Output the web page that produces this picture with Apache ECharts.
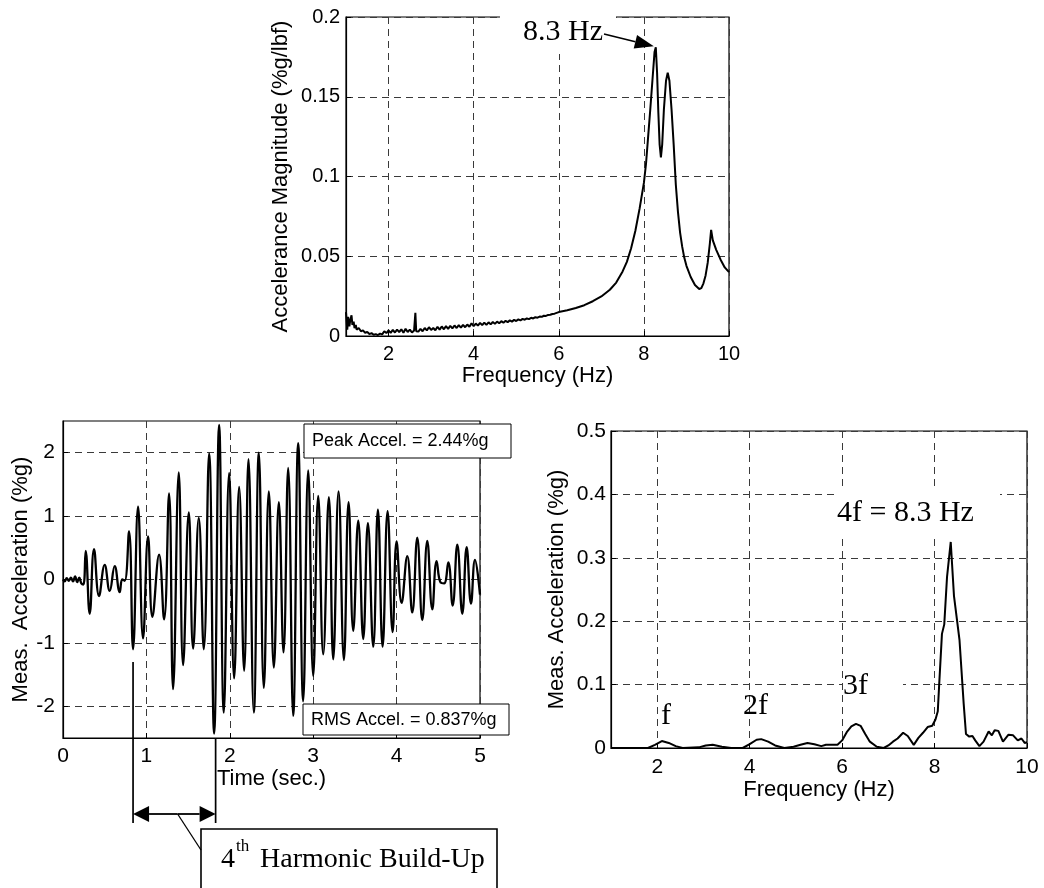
<!DOCTYPE html>
<html>
<head>
<meta charset="utf-8">
<script src="https://cdn.jsdelivr.net/npm/echarts@6/dist/echarts.min.js"></script>
<style>
  html, body { margin: 0; padding: 0; background: #fff; }
  #chart { width: 1044px; height: 888px; }
</style>
</head>
<body>
<div id="chart"></div>
<script>
// Accelerance frequency response (%g/lbf) vs frequency (Hz)
const frfFreq = [
  1.00, 1.03, 1.05, 1.08, 1.10, 1.13, 1.15, 1.18, 1.20, 1.23, 1.25, 1.30, 1.35, 1.40, 1.45,
  1.50, 1.55, 1.60, 1.65, 1.70, 1.75, 1.80, 1.85, 1.90, 1.95, 2.00, 2.05, 2.10, 2.15, 2.20,
  2.25, 2.30, 2.35, 2.40, 2.45, 2.50, 2.55, 2.60, 2.63, 2.65, 2.70, 2.75, 2.80, 2.85, 2.90,
  2.95, 3.00, 3.05, 3.10, 3.15, 3.20, 3.25, 3.30, 3.35, 3.40, 3.45, 3.50, 3.55, 3.60, 3.65,
  3.70, 3.75, 3.80, 3.85, 3.90, 3.95, 4.00, 4.05, 4.10, 4.15, 4.20, 4.25, 4.30, 4.35, 4.40,
  4.45, 4.50, 4.55, 4.60, 4.65, 4.70, 4.75, 4.80, 4.85, 4.90, 4.95, 5.00, 5.05, 5.10, 5.15,
  5.20, 5.25, 5.30, 5.35, 5.40, 5.45, 5.50, 5.55, 5.60, 5.65, 5.70, 5.75, 5.80, 5.85, 5.90,
  5.95, 6.00, 6.20, 6.40, 6.60, 6.80, 7.00, 7.20, 7.35, 7.50, 7.60, 7.70, 7.80, 7.90, 8.00,
  8.05, 8.10, 8.15, 8.20, 8.25, 8.28, 8.31, 8.34, 8.37, 8.40, 8.43, 8.47, 8.52, 8.56, 8.60,
  8.65, 8.70, 8.75, 8.80, 8.85, 8.90, 8.95, 9.00, 9.10, 9.20, 9.30, 9.35, 9.40, 9.45, 9.50,
  9.55, 9.58, 9.62, 9.70, 9.80, 9.90, 10.00
];
const frfMag = [
  0.0150, 0.0040, 0.0120, 0.0060, 0.0100, 0.0130, 0.0070, 0.0090, 0.0050, 0.0070, 0.0040, 0.0050, 0.0030, 0.0035, 0.0020,
  0.0025, 0.0012, 0.0018, 0.0008, 0.0012, 0.0006, 0.0015, 0.0010, 0.0030, 0.0018, 0.0035, 0.0020, 0.0038, 0.0022, 0.0040,
  0.0024, 0.0042, 0.0020, 0.0045, 0.0025, 0.0040, 0.0022, 0.0035, 0.0145, 0.0030, 0.0028, 0.0045, 0.0030, 0.0050, 0.0035,
  0.0055, 0.0038, 0.0050, 0.0036, 0.0058, 0.0040, 0.0060, 0.0042, 0.0062, 0.0045, 0.0063, 0.0048, 0.0066, 0.0050, 0.0068,
  0.0052, 0.0070, 0.0055, 0.0072, 0.0058, 0.0080, 0.0062, 0.0078, 0.0065, 0.0082, 0.0068, 0.0084, 0.0070, 0.0086, 0.0073,
  0.0088, 0.0076, 0.0090, 0.0080, 0.0093, 0.0083, 0.0095, 0.0087, 0.0098, 0.0090, 0.0101, 0.0094, 0.0104, 0.0098, 0.0107,
  0.0102, 0.0110, 0.0106, 0.0114, 0.0110, 0.0118, 0.0115, 0.0122, 0.0120, 0.0127, 0.0126, 0.0132, 0.0133, 0.0138, 0.0140,
  0.0145, 0.0150, 0.0162, 0.0176, 0.0193, 0.0218, 0.0248, 0.0290, 0.0335, 0.0405, 0.0465, 0.0550, 0.0660, 0.0800, 0.0960,
  0.1080, 0.1250, 0.1420, 0.1600, 0.1780, 0.1810, 0.1650, 0.1400, 0.1200, 0.1120, 0.1200, 0.1420, 0.1600, 0.1650, 0.1600,
  0.1420, 0.1200, 0.0950, 0.0780, 0.0650, 0.0560, 0.0490, 0.0440, 0.0370, 0.0320, 0.0295, 0.0300, 0.0330, 0.0380, 0.0460,
  0.0580, 0.0665, 0.0600, 0.0540, 0.0480, 0.0430, 0.0400
];

// Measured acceleration time history (%g) vs time (s)
const accelTime = [
  0.000, 0.020, 0.045, 0.070, 0.095, 0.120, 0.145, 0.170, 0.195, 0.220, 0.245,
  0.272, 0.320, 0.372, 0.432, 0.500, 0.560, 0.620, 0.680, 0.710, 0.740,
  0.792, 0.840, 0.900, 0.960, 1.020, 1.072, 1.152, 1.212, 1.272, 1.320,
  1.388, 1.440, 1.508, 1.560, 1.628, 1.688, 1.752, 1.812, 1.872, 1.928,
  1.992, 2.052, 2.112, 2.172, 2.224, 2.288, 2.348, 2.408, 2.468, 2.528,
  2.588, 2.644, 2.700, 2.760, 2.820, 2.880, 2.940, 3.000, 3.060, 3.120,
  3.188, 3.240, 3.304, 3.368, 3.424, 3.480, 3.540, 3.600, 3.656, 3.720,
  3.776, 3.832, 3.892, 3.952, 4.000, 4.060, 4.128, 4.188, 4.248, 4.308,
  4.368, 4.428, 4.480, 4.528, 4.570, 4.620, 4.672, 4.728, 4.788, 4.840,
  4.892, 4.940, 5.000
];
const accelValue = [
  0.00, -0.03, 0.02, -0.02, 0.03, -0.03, 0.05, -0.04, 0.03, -0.06, -0.08,
  0.45, -0.54, 0.48, -0.26, 0.23, -0.18, 0.21, -0.20, 0.00, -0.02,
  0.76, -1.10, 1.15, -0.93, 0.68, -0.59, 0.39, -0.63, 1.36, -1.73,
  1.69, -1.35, 1.06, -1.09, 0.97, -1.10, 1.99, -2.43, 2.44, -2.10,
  1.68, -1.56, 1.46, -1.44, 1.90, -2.10, 2.00, -1.71, 1.39, -1.39,
  1.22, -1.15, 1.76, -2.15, 2.15, -1.92, 1.72, -1.52, 1.32, -1.18,
  1.30, -1.26, 1.39, -1.27, 1.22, -0.81, 0.93, -0.94, 0.89, -1.06,
  1.10, -1.06, 1.08, -0.83, 0.60, -0.37, 0.37, -0.52, 0.66, -0.64,
  0.61, -0.47, 0.29, -0.05, -0.06, 0.27, -0.41, 0.55, -0.54, 0.51,
  -0.38, 0.31, -0.24
];

// Spectrum of the measured acceleration (%g) vs frequency (Hz)
const specFreq = [
  1.00, 1.80, 1.95, 2.10, 2.25, 2.40, 2.55, 2.90, 3.05, 3.20, 3.40, 3.60, 3.85, 4.00, 4.15,
  4.25, 4.40, 4.55, 4.75, 4.95, 5.10, 5.25, 5.40, 5.55, 5.65, 5.90, 6.00, 6.10, 6.20, 6.30,
  6.40, 6.50, 6.60, 6.75, 6.90, 7.00, 7.10, 7.20, 7.32, 7.42, 7.55, 7.65, 7.75, 7.85, 7.95,
  8.02, 8.07, 8.10, 8.16, 8.21, 8.27, 8.35, 8.42, 8.54, 8.63, 8.68, 8.75, 8.82, 8.88, 8.97,
  9.06, 9.17, 9.24, 9.30, 9.38, 9.48, 9.60, 9.70, 9.80, 9.88, 9.95, 10.00
];
const specAmp = [
  0.000, 0.000, 0.005, 0.011, 0.008, 0.003, 0.000, 0.001, 0.004, 0.005, 0.002, 0.000, 0.000, 0.006, 0.013,
  0.014, 0.010, 0.004, 0.000, 0.002, 0.005, 0.008, 0.006, 0.003, 0.005, 0.005, 0.012, 0.025, 0.034, 0.038,
  0.035, 0.022, 0.010, 0.002, 0.000, 0.004, 0.010, 0.015, 0.024, 0.019, 0.005, 0.016, 0.024, 0.033, 0.035,
  0.045, 0.058, 0.100, 0.180, 0.195, 0.270, 0.325, 0.240, 0.170, 0.070, 0.022, 0.018, 0.019, 0.012, 0.003,
  0.010, 0.026, 0.020, 0.028, 0.027, 0.010, 0.021, 0.020, 0.012, 0.015, 0.008, 0.009
];

// Tick values
const freqTicks = [2, 4, 6, 8, 10];
const accelTicks = [-2, -1, 0, 1, 2];

// Build-up window of the 4th harmonic on the time axis (s)
const buildUpStart = 0.84;
const buildUpEnd = 1.83;
const buildUpMarkerTop = -1.3;
const peakFreq = 8.28;
const peakMag = 0.181;

const SANS = '"Liberation Sans", Arial, sans-serif';
const SERIF = '"Liberation Serif", "Times New Roman", serif';

const chart = echarts.init(document.getElementById('chart'), null, { renderer: 'canvas' });

function axis(opts) {
  return {
    type: 'value',
    gridIndex: opts.grid,
    min: opts.min,
    max: opts.max,
    interval: opts.interval,
    name: opts.name,
    nameLocation: 'middle',
    nameGap: opts.nameGap,
    nameTextStyle: { color: '#000', fontSize: 22, fontFamily: SANS },
    axisLine: { show: true, onZero: false, lineStyle: { color: '#000', width: 1.2 } },
    axisTick: { show: true, inside: true, length: 5, lineStyle: { color: '#000' }, customValues: opts.custom },
    axisLabel: { color: '#000', fontSize: opts.fontSize || 20, fontFamily: SANS, margin: opts.margin, customValues: opts.custom },
    splitLine: { show: true, lineStyle: { color: '#3a3a3a', width: 1, type: [7, 5] } }
  };
}

const gridStyle = { show: true, borderColor: '#000', borderWidth: 1.2, backgroundColor: 'transparent' };

const option = {
  animation: false,
  backgroundColor: '#fff',
  grid: [
    Object.assign({ left: 346, top: 17, width: 383, height: 319 }, gridStyle),
    Object.assign({ left: 63, top: 421, width: 417, height: 317 }, gridStyle),
    Object.assign({ left: 611, top: 431, width: 416, height: 317 }, gridStyle)
  ],
  xAxis: [
    axis({ grid: 0, min: 1, max: 10, custom: freqTicks, name: 'Frequency (Hz)', nameGap: 28, margin: 8 }),
    axis({ grid: 1, min: 0, max: 5, interval: 1, name: 'Time (sec.)', nameGap: 29, margin: 8, fontSize: 21 }),
    axis({ grid: 2, min: 1, max: 10, custom: freqTicks, name: 'Frequency (Hz)', nameGap: 31, margin: 9, fontSize: 21 })
  ],
  yAxis: [
    axis({ grid: 0, min: 0, max: 0.2, interval: 0.05, name: 'Accelerance Magnitude (%g/lbf)', nameGap: 54, margin: 6 }),
    axis({ grid: 1, min: -2.5, max: 2.5, custom: accelTicks, name: 'Meas.  Acceleration (%g)', nameGap: 30, margin: 8, fontSize: 21 }),
    axis({ grid: 2, min: 0, max: 0.5, interval: 0.1, name: 'Meas. Acceleration (%g)', nameGap: 43, margin: 5, fontSize: 21 })
  ],
  series: [
    {
      type: 'line', xAxisIndex: 0, yAxisIndex: 0, showSymbol: false, silent: true,
      data: frfFreq.map((f, i) => [f, frfMag[i]]),
      lineStyle: { color: '#000', width: 2 }
    },
    {
      type: 'line', xAxisIndex: 1, yAxisIndex: 1, showSymbol: false, silent: true, smooth: 0.45,
      data: accelTime.map((t, i) => [t, accelValue[i]]),
      lineStyle: { color: '#000', width: 2.3 }
    },
    {
      type: 'line', xAxisIndex: 2, yAxisIndex: 2, showSymbol: false, silent: true,
      data: specFreq.map((f, i) => [f, specAmp[i]]),
      lineStyle: { color: '#000', width: 2 }
    }
  ]
};

chart.setOption(option);

// Annotation helpers
function arrow(x1, y1, x2, y2, headLen, headHalf, width) {
  const dx = x2 - x1, dy = y2 - y1;
  const L = Math.hypot(dx, dy), ux = dx / L, uy = dy / L;
  const bx = x2 - ux * headLen, by = y2 - uy * headLen;
  const px = -uy, py = ux;
  return [
    { type: 'line', z: 110, shape: { x1: x1, y1: y1, x2: bx, y2: by }, style: { stroke: '#000', lineWidth: width } },
    { type: 'polygon', z: 110, shape: { points: [[x2, y2], [bx + px * headHalf, by + py * headHalf], [bx - px * headHalf, by - py * headHalf]] }, style: { fill: '#000' } }
  ];
}
function label(text, x, y, font, align) {
  return { type: 'text', z: 120, x: x, y: y, style: { text: text, font: font, fill: '#000', textAlign: align || 'left', textVerticalAlign: 'middle' } };
}
function whiteRect(x, y, w, h) {
  return { type: 'rect', z: 105, shape: { x: x, y: y, width: w, height: h }, style: { fill: '#fff' } };
}
function boxRect(x, y, w, h, lw) {
  return { type: 'rect', z: 106, shape: { x: x, y: y, width: w, height: h }, style: { fill: '#fff', stroke: '#000', lineWidth: lw } };
}

const peakPx = chart.convertToPixel({ gridIndex: 0 }, [peakFreq, peakMag]);
const startPx = chart.convertToPixel({ gridIndex: 1 }, [buildUpStart, buildUpMarkerTop]);
const endPx = chart.convertToPixel({ gridIndex: 1 }, [buildUpEnd, -2.5]);
const arrowY = 814, markerBottom = 823;
const midX = startPx[0] + (endPx[0] - startPx[0]) * 0.54;

const graphics = [
  // 8.3 Hz callout on the accelerance plot
  whiteRect(500, 4, 116, 50),
  label('8.3 Hz', 563, 32, '30px ' + SERIF, 'center'),
  ...arrow(604, 34, peakPx[0] - 2, peakPx[1] - 1, 19, 7, 1.7),

  // statistics boxes on the time history
  boxRect(304, 424, 207, 34, 1),
  label('Peak Accel. = 2.44%g', 312, 441, '18px ' + SANS),
  boxRect(303, 704, 206, 31, 1),
  label('RMS Accel. = 0.837%g', 311, 720, '18px ' + SANS),

  // build-up window markers
  { type: 'line', z: 110, shape: { x1: startPx[0], y1: startPx[1], x2: startPx[0], y2: markerBottom }, style: { stroke: '#000', lineWidth: 1.7 } },
  { type: 'line', z: 110, shape: { x1: endPx[0], y1: endPx[1], x2: endPx[0], y2: markerBottom }, style: { stroke: '#000', lineWidth: 1.7 } },
  ...arrow(midX, arrowY, startPx[0], arrowY, 16, 8, 1.8),
  ...arrow(midX, arrowY, endPx[0], arrowY, 16, 8, 1.8),
  { type: 'line', z: 110, shape: { x1: midX, y1: arrowY, x2: 201, y2: 850 }, style: { stroke: '#000', lineWidth: 1.3 } },
  boxRect(201, 829, 296, 80, 1.6),
  label('4', 221, 860, '28px ' + SERIF),
  label('th', 236, 847, '17px ' + SERIF),
  label('Harmonic Build-Up', 260, 860, '28px ' + SERIF),

  // harmonic labels on the spectrum
  whiteRect(837, 489, 163, 45),
  label('4f = 8.3 Hz', 837, 513, '30px ' + SERIF),
  whiteRect(843, 671, 60, 30),
  label('3f', 843, 686, '30px ' + SERIF),
  label('2f', 743, 706, '30px ' + SERIF),
  label('f', 661, 716, '30px ' + SERIF)
];

chart.setOption({ graphic: { elements: graphics } });
</script>
</body>
</html>
